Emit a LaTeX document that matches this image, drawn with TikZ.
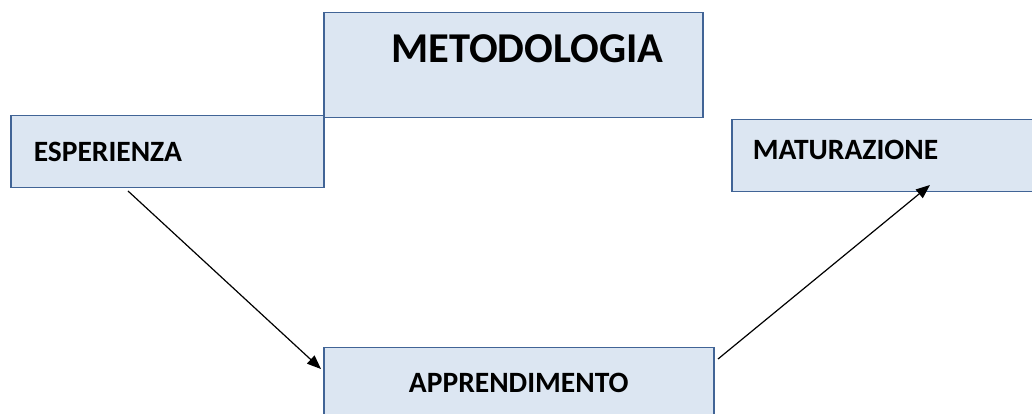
\documentclass[tikz,border=0pt]{standalone}
\usepackage{fontspec}
\setmainfont{Carlito}
\usetikzlibrary{arrows.meta}
\definecolor{boxfill}{RGB}{220,230,242}
\definecolor{boxline}{RGB}{65,100,150}

\begin{document}
\begin{tikzpicture}[x=1pt, y=1pt,
    box/.style={draw=boxline, fill=boxfill, line width=1.5pt, anchor=north west, inner sep=0pt},
    boxlabel/.style={font=\fontsize{29.5}{34}\selectfont\bfseries},
    title/.style={font=\fontsize{42.5}{48}\selectfont\bfseries}]
      \useasboundingbox (0,0) rectangle (1032,414);
      \clip (0,0) rectangle (1032,414);

      \node (metodologia) [box, minimum width=379, minimum height=105] at (323,402) {};
      \node (metodologia text) [title] at (527.5,365.5) {METODOLOGIA};
      \node (esperienza) [box, boxlabel, minimum width=313, minimum height=72, text width=267, inner xsep=23, align=left] at (10,299) {ESPERIENZA};
      \node (maturazione) [box, boxlabel, minimum width=320, minimum height=72, text width=278, inner xsep=21, align=left, text height=19, text depth=12] at (731,295) {MATURAZIONE};
      \node (apprendimento) [box, boxlabel, minimum width=390, minimum height=71, align=center] at (323,67) {APPRENDIMENTO};

      \coordinate (esperienza out) at (128,223);
      \coordinate (apprendimento in) at (321,45);
      \coordinate (apprendimento out) at (718,55);
      \coordinate (maturazione in) at (930,229);

      \draw[-{Triangle[length=14pt,width=11pt]}, line width=1.2pt] (esperienza out) -- (apprendimento in);
      \draw[-{Triangle[length=14pt,width=11pt]}, line width=1.2pt] (apprendimento out) -- (maturazione in);
\end{tikzpicture}
\end{document}
